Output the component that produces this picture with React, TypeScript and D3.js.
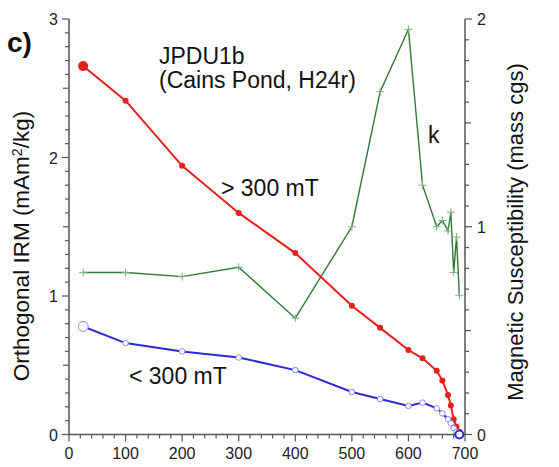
import React from "react";
import * as d3 from "d3";

const temps = [25, 100, 200, 300, 400, 500, 550, 600, 625, 650, 660, 670, 675, 680, 685, 690];
const irmHigh = [2.66, 2.41, 1.94, 1.6, 1.31, 0.93, 0.77, 0.61, 0.55, 0.46, 0.39, 0.285, 0.21, 0.11, 0.056, 0.02];
const irmLow = [0.78, 0.66, 0.6, 0.556, 0.465, 0.307, 0.256, 0.206, 0.23, 0.189, 0.153, 0.11, 0.081, 0.045, 0.02, 0.0];
const kappa = [0.78, 0.78, 0.76, 0.805, 0.56, 1.0, 1.65, 1.95, 1.2, 1.0, 1.03, 0.98, 1.07, 0.78, 0.95, 0.67];
const xTicks = [0, 100, 200, 300, 400, 500, 600, 700];
const yLeftTicks = [0, 1, 2, 3];
const yRightTicks = [0, 1, 2];

const FONT = "Liberation Sans, Arial, Helvetica, sans-serif";
const AX = "#555";

export default function App() {
  const W = 559, H = 467;
  const x = d3.scaleLinear().domain([0, 700]).range([69, 465]);
  const yL = d3.scaleLinear().domain([0, 3]).range([434.5, 19]);
  const yR = d3.scaleLinear().domain([0, 2]).range([434.5, 19]);
  const x0 = x(0), x1 = x(700), yb = yL(0), yt = yL(3);

  const lineL = (vals: number[]) =>
    d3.line<number>().x((_, i) => x(temps[i])).y((v) => yL(v))(vals) || "";
  const lineR = d3.line<number>().x((_, i) => x(temps[i])).y((v) => yR(v))(kappa) || "";

  const minorX = d3.range(0, 701, 20);
  const minorL = d3.range(0, 31).map((i) => i / 10);
  const minorR = d3.range(0, 21).map((i) => i / 10);

  const red = "#e6201a";
  const blue = "#2a2ad6";
  const green = "#2f7a36";
  const lightGreen = "#7fb27f";

  return (
    <svg width={W} height={H} style={{ position: "absolute", left: 0, top: 0 }} fontFamily={FONT}>
      <rect width={W} height={H} fill="#fff" />
      <g stroke={AX} strokeWidth={1.5} fill="none">
        <line x1={x0} x2={x0} y1={yt} y2={yb} />
        <line x1={x1} x2={x1} y1={yt} y2={yb} />
        <line x1={x0} x2={x1} y1={yb} y2={yb} />
      </g>
      <g stroke={AX} strokeWidth={1.2}>
        {minorX.map((t) => {
          const major = t % 100 === 0;
          return <line key={"xt" + t} x1={x(t)} x2={x(t)} y1={yb} y2={yb + (major ? 7 : 4)} />;
        })}
        {minorL.map((v, i) => {
          const major = i % 10 === 0;
          const half = i % 5 === 0;
          return <line key={"yl" + i} x1={x0} x2={x0 - (major ? 7 : half ? 6 : 4)} y1={yL(v)} y2={yL(v)} />;
        })}
        {minorR.map((v, i) => {
          const major = i % 10 === 0;
          const half = i % 5 === 0;
          return <line key={"yr" + i} x1={x1} x2={x1 + (major ? 7 : half ? 6 : 4)} y1={yR(v)} y2={yR(v)} />;
        })}
      </g>
      <g fontSize={16} fill="#222">
        {xTicks.map((t) => (
          <text key={"xl" + t} x={x(t)} y={yb + 24} textAnchor="middle">{t}</text>
        ))}
        {yLeftTicks.map((v) => (
          <text key={"yll" + v} x={x0 - 11} y={yL(v) + 6} textAnchor="end">{v}</text>
        ))}
        {yRightTicks.map((v) => (
          <text key={"yrl" + v} x={x1 + 12} y={yR(v) + 6} textAnchor="start">{v}</text>
        ))}
      </g>
      <text
        transform={`translate(29,246) rotate(-90)`}
        textAnchor="middle"
        fontSize={22.5}
        fill="#111"
      >
        Orthogonal IRM (mAm<tspan dy={-7} fontSize={14}>2</tspan><tspan dy={7}>/kg)</tspan>
      </text>
      <text
        transform={`translate(523,232) rotate(-90)`}
        textAnchor="middle"
        fontSize={22}
        fill="#111"
      >
        Magnetic Susceptibility (mass cgs)
      </text>
      <text x={7} y={52} fontSize={28} fontWeight="bold" fill="#111">c)</text>
      <text x={159} y={64} fontSize={23} fill="#111">JPDU1b</text>
      <text x={159} y={88} fontSize={23} fill="#111">(Cains Pond, H24r)</text>
      <text x={221} y={196} fontSize={23} fill="#111">&gt; 300 mT</text>
      <text x={129} y={384} fontSize={23} fill="#111">&lt; 300 mT</text>
      <text x={428} y={143} fontSize={23} fill="#111">k</text>

      <path d={lineR} fill="none" stroke={green} strokeWidth={1.4} />
      <g stroke={lightGreen} strokeWidth={1}>
        {kappa.map((v, i) => (
          <g key={"k" + i}>
            <line x1={x(temps[i]) - 4} x2={x(temps[i]) + 4} y1={yR(v)} y2={yR(v)} />
            <line x1={x(temps[i])} x2={x(temps[i])} y1={yR(v) - 4} y2={yR(v) + 4} />
          </g>
        ))}
      </g>

      <path d={lineL(irmHigh)} fill="none" stroke={red} strokeWidth={2} />
      {irmHigh.map((v, i) => (
        <circle key={"r" + i} cx={x(temps[i])} cy={yL(v)} r={i === 0 ? 5 : 3} fill={red} />
      ))}

      <path d={lineL(irmLow)} fill="none" stroke={blue} strokeWidth={2} />
      {irmLow.map((v, i) => (
        <circle
          key={"b" + i}
          cx={x(temps[i])}
          cy={yL(v)}
          r={i === 0 ? 5 : i === irmLow.length - 1 ? 4 : 2.8}
          fill="#fff"
          stroke={i === irmLow.length - 1 ? blue : "#8a8af0"}
          strokeWidth={i === irmLow.length - 1 ? 2 : 1}
        />
      ))}
    </svg>
  );
}
